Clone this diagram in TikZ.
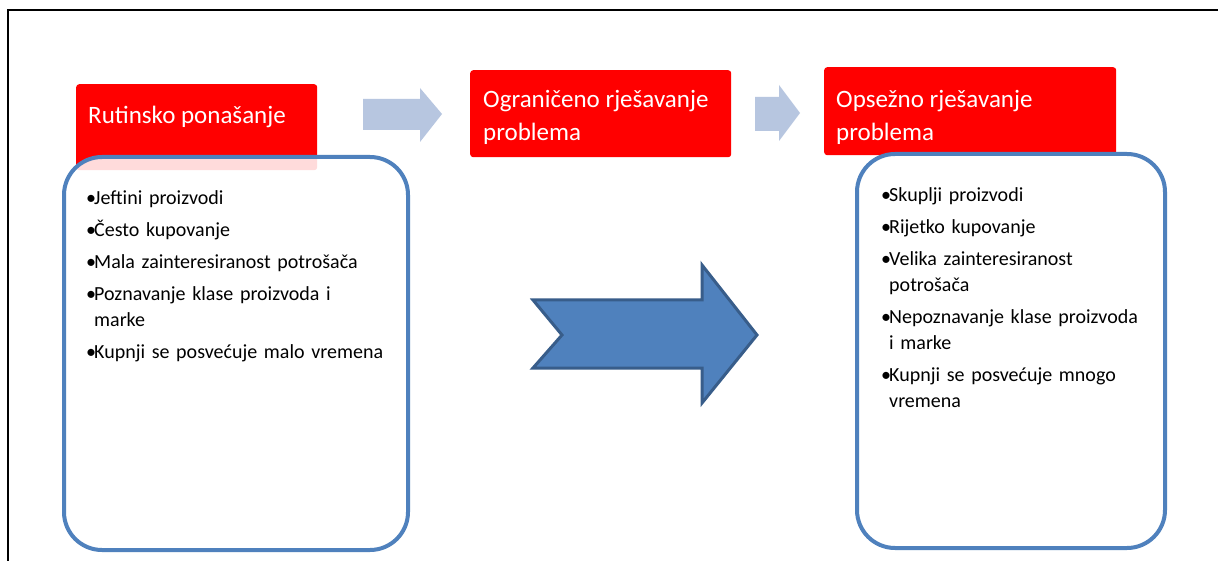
\documentclass[tikz,border=0pt]{standalone}
\usepackage{fontspec}
\setmainfont{Carlito}
\definecolor{hdrred}{RGB}{255,0,0}
\definecolor{boxblue}{RGB}{79,129,189}
\definecolor{arrowlight}{RGB}{183,198,224}
\definecolor{arrowdark}{RGB}{56,93,138}
\newcommand{\bitem}[1]{\par\hangindent=8pt\hangafter=1\noindent\makebox[8pt][l]{\textbullet}#1}
\tikzset{
  redbox/.style={fill=hdrred, draw=none, rounded corners=3pt, inner sep=0pt, anchor=north west},
  hdrtext/.style={text=white, font=\fontsize{25}{33}\selectfont, align=left, inner sep=0pt, anchor=north west},
  listbox/.style={draw=boxblue, line width=4pt, fill=white, fill opacity=0.86, rounded corners=38pt, inner sep=0pt, anchor=north west},
  listtext/.style={text=black, font=\fontsize{20}{26}\selectfont, align=left, inner sep=0pt, anchor=north west, text width=330pt},
  lightarrow/.style={fill=arrowlight, draw=none},
  bigarrow/.style={fill=boxblue, draw=arrowdark, line width=3pt},
  frameline/.style={draw=black, line width=2.5pt}
}
\begin{document}
\begin{tikzpicture}[x=1pt,y=-1pt]
\useasboundingbox (0,0) rectangle (1218,561);
\fill[white] (0,0) rectangle (1218,561);
\draw[frameline] (8,562) -- (8,10) -- (1220,10);

% header boxes
\node[redbox, minimum width=241pt, minimum height=86pt] (r1) at (76,84) {};
\node[redbox, minimum width=261pt, minimum height=87pt] (r2) at (470,70) {};
\node[redbox, minimum width=292pt, minimum height=88pt] (r3) at (824,67) {};

% list boxes
\node[listbox, minimum width=344pt, minimum height=393pt] (b1) at (62,155) {};
\node[listbox, minimum width=308pt, minimum height=394pt] (b2) at (855,152) {};

% header texts
\node[hdrtext] (t1) at (88,101) {\rule{0pt}{22pt}Rutinsko ponašanje};
\node[hdrtext] (t2) at (483,85) {\rule{0pt}{22pt}Ograničeno rješavanje\\problema};
\node[hdrtext] (t3) at (836,85) {\rule{0pt}{22pt}Opsežno rješavanje\\problema};

% list texts
\node[listtext] (l1) at (86,172) {\setlength{\parskip}{6pt}%
\bitem{\rule{0pt}{18pt}Jeftini proizvodi}
\bitem{Često kupovanje}
\bitem{Mala zainteresiranost potrošača}
\bitem{Poznavanje klase proizvoda i\newline marke}
\bitem{Kupnji se posvećuje malo vremena}\par};
\node[listtext] (l2) at (881,169) {\setlength{\parskip}{6pt}%
\bitem{\rule{0pt}{18pt}Skuplji proizvodi}
\bitem{Rijetko kupovanje}
\bitem{Velika zainteresiranost\newline potrošača}
\bitem{Nepoznavanje klase proizvoda\newline i marke}
\bitem{Kupnji se posvećuje mnogo\newline vremena}\par};

% small arrows
\fill[lightarrow] (363,99) -- (420,99) -- (420,88) -- (442,114) -- (420,142) -- (420,130) -- (363,130) -- cycle;
\fill[lightarrow] (755,97) -- (779,97) -- (779,85) -- (800,113) -- (779,141) -- (779,131) -- (755,131) -- cycle;

% big arrow
\filldraw[bigarrow] (533,300) -- (702,300) -- (702,265) -- (757,335) -- (702,403) -- (702,368) -- (533,368) -- (562,335) -- cycle;
\end{tikzpicture}
\end{document}
